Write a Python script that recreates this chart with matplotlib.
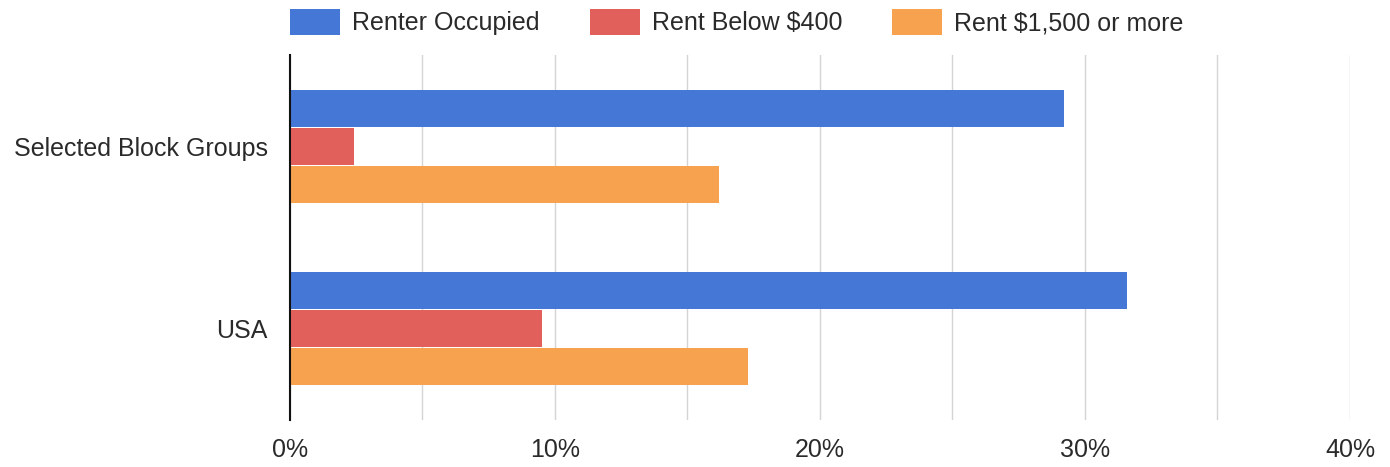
import matplotlib.pyplot as plt
from matplotlib.patches import Patch
from matplotlib.ticker import MultipleLocator, PercentFormatter
import numpy as np

plt.rcParams['font.family'] = ['Liberation Sans', 'DejaVu Sans']

# Data (percent)
categories = ['Selected Block Groups', 'USA']
series_names = ['Renter Occupied', 'Rent Below $400', 'Rent $1,500 or more']
renter_occupied = [29.2, 31.6]
rent_below_400 = [2.4, 9.5]
rent_1500_plus = [16.2, 17.3]
x_ticks = [0, 10, 20, 30, 40]

colors = ['#4577d6', '#e2605c', '#f7a24f']
series = [renter_occupied, rent_below_400, rent_1500_plus]
text_color = '#2a2a2a'

fig = plt.figure(figsize=(13.9, 4.67), dpi=100)
ax = fig.add_axes([0.2086, 0.1006, 0.7626, 0.7814])

y = np.arange(len(categories))
h = 0.208
offsets = [-h, 0, h]
for vals, off, c, name in zip(series, offsets, colors, series_names):
    ax.barh(y + off, vals, height=h * 0.97, color=c, label=name, zorder=3)

ax.set_ylim(1.5, -0.5)
ax.set_xlim(0, 40)
ax.set_yticks(y)
ax.set_yticklabels(categories, fontsize=18, color=text_color)
ax.set_xticks(x_ticks)
ax.xaxis.set_major_formatter(PercentFormatter(decimals=0))
ax.xaxis.set_minor_locator(MultipleLocator(5))
ax.tick_params(axis='x', labelsize=18, colors=text_color, length=0, which='both', pad=13)
ax.tick_params(axis='y', length=0, pad=16)
ax.grid(axis='x', which='both', color='#d4d4d4', linewidth=1, zorder=0)

for s in ['top', 'right', 'bottom']:
    ax.spines[s].set_visible(False)
ax.spines['left'].set_color('#111111')
ax.spines['left'].set_linewidth(1.5)
ax.spines['left'].set_zorder(4)

handles = [Patch(facecolor=c) for c in colors]
leg = fig.legend(handles, series_names, loc='center left',
                 bbox_to_anchor=(290 / 1390, 1 - 22 / 467),
                 ncol=3, frameon=False, fontsize=18, handlelength=2.0,
                 handleheight=1.2, columnspacing=2.0, handletextpad=0.48,
                 borderpad=0, borderaxespad=0)
for t in leg.get_texts():
    t.set_color(text_color)

fig.savefig('out.png', dpi=100)
